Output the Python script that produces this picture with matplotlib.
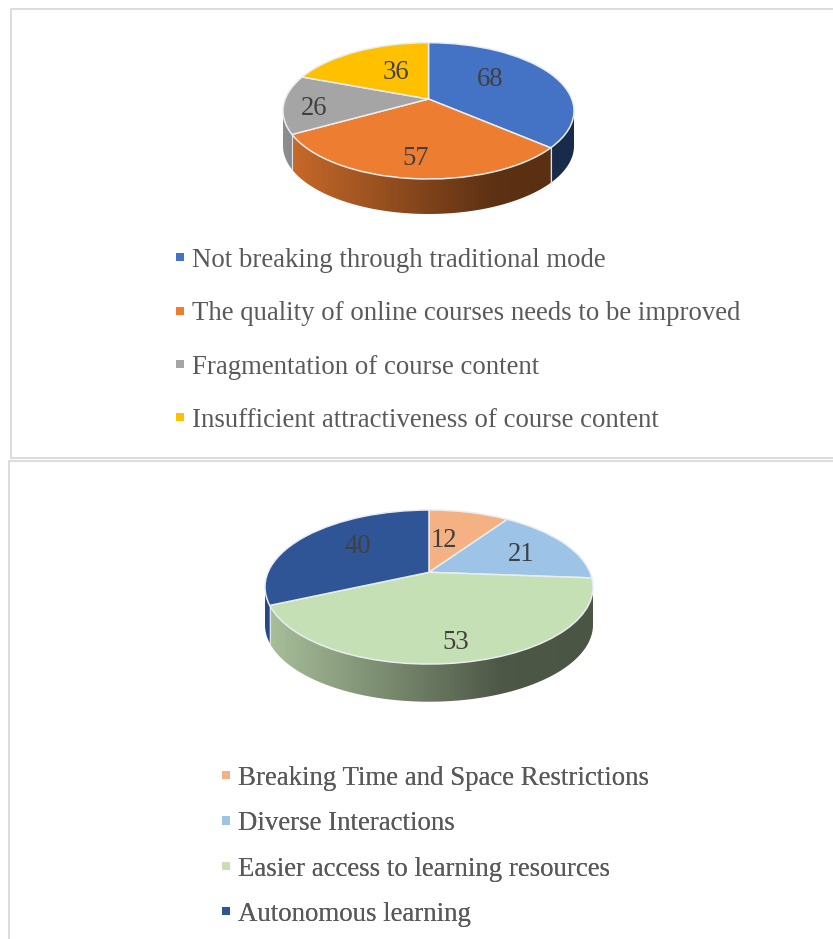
import numpy as np
import matplotlib
matplotlib.use("Agg")
import matplotlib.pyplot as plt
from matplotlib.transforms import Transform
from matplotlib.patches import Patch, Polygon

plt.rcParams['font.family'] = ['Liberation Serif', 'DejaVu Serif']

labels_top = ["Not breaking through traditional mode",
              "The quality of online courses needs to be improved",
              "Fragmentation of course content",
              "Insufficient attractiveness of course content"]
values_top = [68, 57, 26, 36]
colors_top = ["#4472C4", "#ED7D31", "#A5A5A5", "#FFC000"]

labels_bot = ["Breaking Time and Space Restrictions",
              "Diverse Interactions",
              "Easier access to learning resources",
              "Autonomous learning"]
values_bot = [12, 21, 53, 40]
colors_bot = ["#F4B183", "#9DC3E6", "#C5E0B4", "#2F5597"]

label_xy_top = [(490, 79.5), (416, 158.5), (314, 108.5), (396, 72.5)]
label_xy_bot = [(444, 540.5), (521, 554.5), (456, 642.5), (358, 546.5)]


class Persp(Transform):
    input_dims = output_dims = 2

    def __init__(self, cx, cy, a, b, k):
        super().__init__()
        self.p = (cx, cy, a, b, k)

    def transform_non_affine(self, values):
        cx, cy, a, b, k = self.p
        values = np.asarray(values)
        w = 1 + k * values[:, 1]
        return np.column_stack([cx + b * values[:, 0] / w, cy - a * values[:, 1] / w])


def draw_pie(ax, values, colors, cx, cy, a, b, k, depth, xys):
    tr = Persp(cx, cy, a, b, k)
    wedges, _ = ax.pie(values, colors=colors, startangle=90, counterclock=False,
                       wedgeprops=dict(edgecolor="#e9edf1", linewidth=1.1))
    for w in wedges:
        w.set_transform(tr + ax.transData)
        w.set_zorder(3)

    edges = np.concatenate([[0], np.cumsum(values)]) / np.sum(values) * 2 * np.pi
    rim = lambda t: tr.transform_non_affine(np.column_stack([np.sin(t), np.cos(t)]))
    xs = rim(np.linspace(0, 2 * np.pi, 1441))[:, 0]
    left, right = xs.min(), xs.max()
    # shading of the side wall, dark towards the right
    grid = np.linspace(0, 1, 400)
    shade = np.interp(grid, [0, 0.72, 1], [0.86, 0.39, 0.38])
    top_y, bottom_y = cy - a, cy + a / (1 - k) + depth + 2
    for i, col in enumerate(colors):
        t = np.linspace(edges[i], edges[i + 1], max(int((edges[i + 1] - edges[i]) * 120), 3))
        p = rim(t)
        keep = np.r_[p[1:, 0] < p[:-1, 0], False] | np.r_[False, p[1:, 0] < p[:-1, 0]]
        if keep.sum() < 2:
            continue
        q = p[keep]
        poly = np.vstack([q, (q + [0, depth])[::-1]])
        rgb = np.array(matplotlib.colors.to_rgb(col))
        grad = (shade[:, None] * rgb)[None, :, :]
        im = ax.imshow(grad, extent=(left, right, bottom_y, top_y), aspect="auto",
                       interpolation="bilinear", zorder=1)
        clip = Polygon(poly, closed=True, transform=ax.transData)
        im.set_clip_path(clip)
    # pale seam where two slices meet on the visible rim
    for e in edges[:-1]:
        p = rim(np.array([e - 0.005, e, e + 0.005]))
        if p[2, 0] < p[0, 0]:
            ax.plot([p[1, 0], p[1, 0]], [p[1, 1], p[1, 1] + depth], color="#dfe4ea",
                    lw=0.8, zorder=2)
    for v, (x, y) in zip(values, xys):
        ax.text(x, y, str(v), ha="center", va="center", fontsize=19.2, color="#404040", zorder=5)


fig = plt.figure(figsize=(8.33, 9.39), dpi=100)
ax = fig.add_axes([0, 0, 1, 1])

draw_pie(ax, values_top, colors_top, 428.5, 99, 66.1, 143.3, 0.1737, 35, label_xy_top)
draw_pie(ax, values_bot, colors_bot, 429, 572.3, 74.2, 161, 0.191, 37.7, label_xy_bot)

ax.set_aspect("auto")
ax.set_xlim(0, 833)
ax.set_ylim(939, 0)
ax.axis("off")

border = dict(color="#d9d9d9", lw=1.3, solid_capstyle="butt", zorder=0)
ax.plot([833, 11, 11, 833], [8.5, 8.5, 458, 458], **border)
ax.plot([9, 9, 833], [939, 461, 461], **border)


def legend(colors, labels, anchor, spacing, size):
    handles = [Patch(facecolor=c, edgecolor="none") for c in colors]
    lg = ax.legend(handles, labels, loc="upper left", bbox_to_anchor=anchor,
                   bbox_transform=ax.transData, frameon=False, fontsize=size,
                   labelcolor="#595959", handlelength=0.31, handleheight=0.09,
                   handletextpad=0.29, labelspacing=spacing, borderpad=0, borderaxespad=0)
    ax.add_artist(lg)


legend(colors_top, labels_top, (176, 248), 1.06, 19.25)
legend(colors_bot, labels_bot, (222, 766), 0.7525, 19.4)

fig.savefig("out.png", dpi=100, facecolor="white")
